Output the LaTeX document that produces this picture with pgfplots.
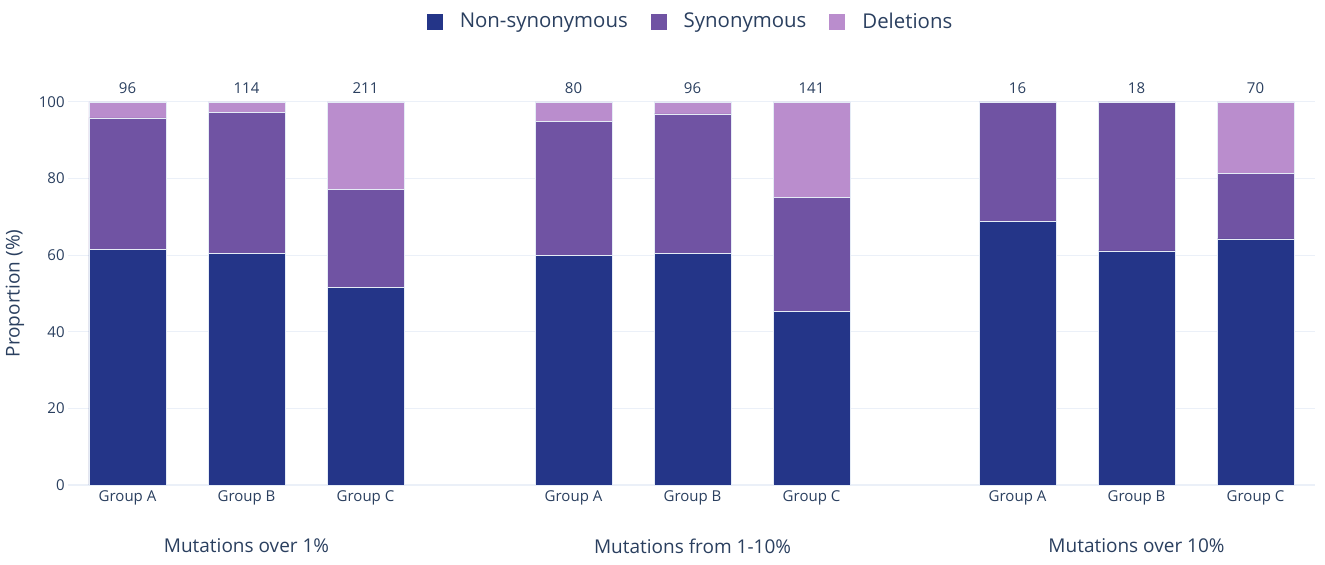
\documentclass[border=0pt]{standalone}
\usepackage{fontspec}
\setmainfont{Open Sans}
\usepackage{pgfplots}
\usepackage{pgfplotstable}
\pgfplotsset{compat=1.18}
\definecolor{nscol}{HTML}{243588}
\definecolor{syncol}{HTML}{7053A3}
\definecolor{delcol}{HTML}{BA8DCD}
\definecolor{gridcol}{HTML}{EBF0F8}
\definecolor{txtcol}{HTML}{2A3F5F}
\definecolor{edgecol}{HTML}{E5ECF6}
\pgfplotstableread{
x ns syn del n top
0 61.46 34.38 4.16 96 100
1 60.53 36.84 2.63 114 100
2 51.66 25.59 22.75 211 100
3.748 60.00 35.00 5.00 80 100
4.748 60.42 36.46 3.12 96 100
5.748 45.39 29.79 24.82 141 100
7.479 68.75 31.25 0 16 100
8.479 61.11 38.89 0 18 100
9.479 64.29 17.14 18.57 70 100
}\data
\begin{document}
\begin{tikzpicture}
\useasboundingbox (-34pt,-40pt) rectangle (628.5pt,242.5pt);
\begin{axis}[
  at={(0,0)}, anchor=south west,
  width=623.5pt, height=191.5pt, scale only axis,
  xmin=-0.5, xmax=9.979, ymin=0, ymax=100,
  clip=false,
  ybar stacked, bar width=38.5pt,
  axis line style={draw=none},
  major tick length=0pt,
  xtick={0,1,2,3.748,4.748,5.748,7.479,8.479,9.479},
  xticklabels={Group A,Group B,Group C,Group A,Group B,Group C,Group A,Group B,Group C},
  ytick={20,40,60,80,100},
  extra y ticks={0},
  extra y tick style={grid style={color=gridcol,line width=1pt}},
  ymajorgrids,
  grid style={color=gridcol, line width=0.5pt},
  /pgf/number format/assume math mode=true,
  tick label style={font=\fontsize{7.5}{9}\selectfont, text=txtcol},
  xticklabel style={inner sep=0pt, anchor=north, yshift=-2.5pt},
  yticklabel style={inner sep=0pt, anchor=east, xshift=-1.5pt},
  every axis y label/.style={at={(rel axis cs:0,0.5)}, xshift=-26.5pt, rotate=90, anchor=center},
  ylabel={Proportion (\%)},
  ylabel style={font=\fontsize{9.5}{11}\selectfont, text=txtcol},
  legend style={at={(0.5,1)}, anchor=center, yshift=40pt, xshift=-1pt, draw=none, fill=none,
    legend columns=3, font=\fontsize{10.2}{12}\selectfont, text=txtcol,
    nodes={inner sep=0pt},
    /tikz/every odd column/.append style={column sep=8.5pt},
    /tikz/every even column/.append style={column sep=11.5pt}},
  legend image code/.code={\fill[#1,draw=none] (0pt,-4pt) rectangle (8pt,4pt);},
]
\addplot[fill=nscol, draw=edgecol, line width=0.25pt] table[x=x,y=ns]{\data};
\addlegendentry{Non-synonymous}
\addplot[fill=syncol, draw=edgecol, line width=0.25pt] table[x=x,y=syn]{\data};
\addlegendentry{Synonymous}
\addplot[fill=delcol, draw=edgecol, line width=0.25pt] table[x=x,y=del]{\data};
\addlegendentry{Deletions}
\node[font=\fontsize{9.5}{11}\selectfont, text=txtcol] at (axis cs:1,0) [yshift=-30.5pt] {Mutations over 1\%};
\node[font=\fontsize{9.5}{11}\selectfont, text=txtcol] at (axis cs:4.748,0) [yshift=-30.5pt] {Mutations from 1-10\%};
\node[font=\fontsize{9.5}{11}\selectfont, text=txtcol] at (axis cs:8.479,0) [yshift=-30.5pt] {Mutations over 10\%};
\end{axis}
\begin{axis}[
  at={(0,0)}, anchor=south west,
  width=623.5pt, height=191.5pt, scale only axis,
  xmin=-0.5, xmax=9.979, ymin=0, ymax=100,
  clip=false, hide axis,
]
\addplot[draw=none, mark=none, only marks,
  point meta=explicit symbolic,
  nodes near coords={\pgfplotspointmeta},
  every node near coord/.append style={anchor=south, inner sep=0pt, yshift=4pt,
     font=\fontsize{7.5}{9}\selectfont, text=txtcol}]
  table[x=x,y=top,meta=n]{\data};
\end{axis}
\end{tikzpicture}
\end{document}
